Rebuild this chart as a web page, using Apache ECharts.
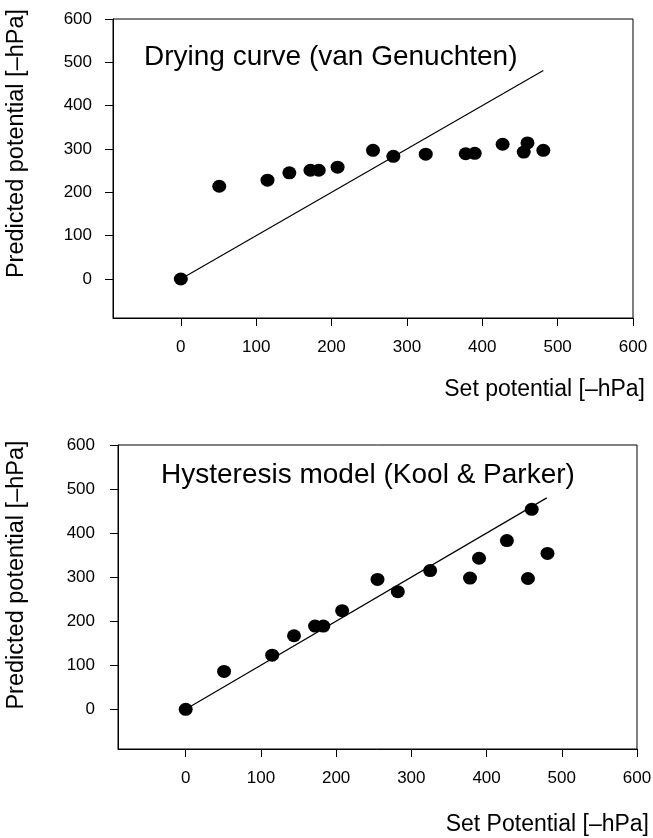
<!DOCTYPE html>
<html>
<head>
<meta charset="utf-8">
<script src="https://cdn.jsdelivr.net/npm/echarts@6/dist/echarts.min.js"></script>
<style>
html,body{margin:0;padding:0;background:#fff;}
#chart{width:653px;height:838px;}
</style>
</head>
<body>
<div id="chart"></div>
<script>
// Set potentials [-hPa]
const setPotential = [0, 51, 115, 144, 172, 183, 208, 255, 282, 325, 378, 390, 427, 455, 460, 481];
// Predicted potentials, drying curve (van Genuchten)
const dryingPredicted = [0, 214, 228, 245, 251, 251, 258, 297, 283, 288, 289, 290, 311, 293, 314, 297];
// Predicted potentials, hysteresis model (Kool & Parker)
const hysteresisPredicted = [0, 86, 123, 167, 189, 189, 224, 295, 267, 315, 298, 343, 383, 297, 454, 354];
// 1:1 reference line endpoints
const oneToOneTop = [0, 481];
const oneToOneBottom = [0, 480];
// Tick labels
const tickValues = [0, 100, 200, 300, 400, 500, 600];
const axisMin = -90;
const axisMax = 600;

const FONT = "'Liberation Sans', Arial, Helvetica, sans-serif";
const INK = '#000';

function pairs(xs, ys) { return xs.map((x, i) => [x, ys[i]]); }

function xAxisCfg(gridIndex, name, labelMargin, namePad) {
  return {
    type: 'value', gridIndex, min: axisMin, max: axisMax,
    name, nameLocation: 'end', nameGap: 12,
    nameTextStyle: { fontFamily: FONT, fontSize: 23, color: INK, align: 'right', verticalAlign: 'top', padding: [namePad, 0, 0, 0] },
    axisLine: { show: true, onZero: false, lineStyle: { color: INK, width: 1 } },
    axisTick: { show: true, inside: false, length: 8, customValues: tickValues, lineStyle: { color: INK, width: 1 } },
    axisLabel: { show: true, margin: labelMargin, customValues: tickValues, fontFamily: FONT, fontSize: 17, color: INK },
    splitLine: { show: false }
  };
}
function yAxisCfg(gridIndex, nameGap, shift, labelMargin) {
  return {
    type: 'value', gridIndex, min: axisMin, max: axisMax,
    name: 'Predicted potential [–hPa]', nameLocation: 'middle', nameGap, nameRotate: 90,
    nameTextStyle: { fontFamily: FONT, fontSize: 23.5, color: INK, padding: [0, 0, 0, shift] },
    axisLine: { show: true, onZero: false, lineStyle: { color: INK, width: 1 } },
    axisTick: { show: true, inside: false, length: 8, customValues: tickValues, lineStyle: { color: INK, width: 1 } },
    axisLabel: { show: true, margin: labelMargin, customValues: tickValues, fontFamily: FONT, fontSize: 17, color: INK },
    splitLine: { show: false }
  };
}

const chart = echarts.init(document.getElementById('chart'), null, { renderer: 'canvas' });
chart.setOption({
  backgroundColor: '#fff',
  animation: false,
  title: [
    { text: 'Drying curve (van Genuchten)', left: 144, top: 43, padding: 0, textStyle: { fontFamily: FONT, fontSize: 28, fontWeight: 'normal', color: INK } },
    { text: 'Hysteresis model (Kool & Parker)', left: 161, top: 461, padding: 0, textStyle: { fontFamily: FONT, fontSize: 28, fontWeight: 'normal', color: INK } }
  ],
  grid: [
    { left: 113, top: 19, width: 520, height: 299, outerBoundsMode: 'none', containLabel: false, show: true, borderColor: INK, borderWidth: 1, backgroundColor: 'transparent' },
    { left: 118, top: 445, width: 519, height: 304, outerBoundsMode: 'none', containLabel: false, show: true, borderColor: INK, borderWidth: 1, backgroundColor: 'transparent' }
  ],
  xAxis: [
    xAxisCfg(0, 'Set potential [–hPa]', 21, 60),
    xAxisCfg(1, 'Set Potential [–hPa]', 21, 64)
  ],
  yAxis: [
    yAxisCfg(0, 84, 50, 21),
    yAxisCfg(1, 89, 44, 23)
  ],
  series: [
    { type: 'line', xAxisIndex: 0, yAxisIndex: 0, data: pairs(oneToOneTop, oneToOneTop), showSymbol: false, symbol: 'none', lineStyle: { color: INK, width: 1.2 }, z: 2 },
    { type: 'scatter', xAxisIndex: 0, yAxisIndex: 0, data: pairs(setPotential, dryingPredicted), symbol: 'circle', symbolSize: [14, 13], itemStyle: { color: INK, opacity: 1 }, z: 3 },
    { type: 'line', xAxisIndex: 1, yAxisIndex: 1, data: pairs(oneToOneBottom, oneToOneBottom), showSymbol: false, symbol: 'none', lineStyle: { color: INK, width: 1.2 }, z: 2 },
    { type: 'scatter', xAxisIndex: 1, yAxisIndex: 1, data: pairs(setPotential, hysteresisPredicted), symbol: 'circle', symbolSize: [14, 13], itemStyle: { color: INK, opacity: 1 }, z: 3 }
  ]
});
</script>
</body>
</html>
